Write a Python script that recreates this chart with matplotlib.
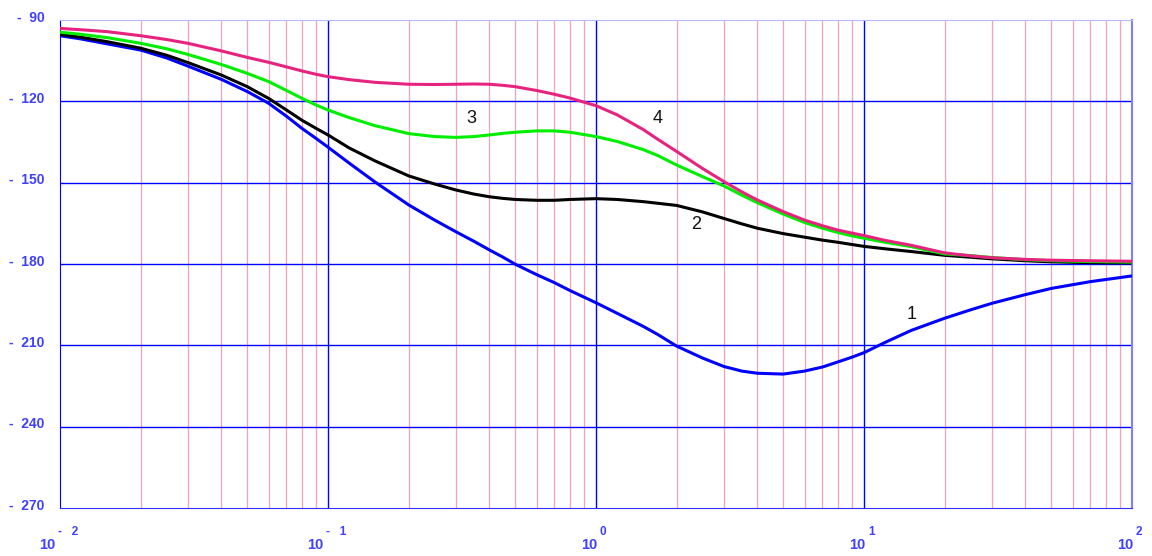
#!/usr/bin/env python3
import matplotlib
matplotlib.use("Agg")
import matplotlib.pyplot as plt
import matplotlib.transforms as mtransforms

plt.rcParams["font.family"] = ["Liberation Sans", "DejaVu Sans"]

# frequency points (log axis)
FREQ = [0.01, 0.012, 0.015, 0.02, 0.025, 0.03, 0.04, 0.05, 0.06, 0.07, 0.08, 0.09,
        0.1, 0.12, 0.15, 0.2, 0.25, 0.3, 0.35, 0.4, 0.45, 0.5, 0.6, 0.7, 0.8,
        1, 1.2, 1.5, 1.7, 2, 2.5, 3, 3.5, 4, 5, 6, 7, 8, 9,
        10, 12, 15, 20, 25, 30, 40, 50, 70, 100]

# phase, degrees
CURVE_1 = [-95.8, -97.0, -98.8, -101.1, -104.0, -107.0, -111.9, -116.4, -120.7,
           -125.5, -130.0, -133.6,
           -136.9, -142.8, -149.8, -158.2, -163.8, -168.1, -171.6, -174.8, -177.5,
           -180.1, -183.9, -186.9, -189.8,
           -194.3, -198.2, -203.0, -206.0, -210.3, -214.7, -217.8, -219.5, -220.3,
           -220.6, -219.5, -218.0, -216.1, -214.4,
           -212.7, -208.9, -204.5, -200.0, -196.9, -194.5, -191.3, -189.0, -186.5,
           -184.4]
CURVE_2 = [-95.3, -96.4, -98.0, -100.4, -103.0, -105.7, -110.3, -114.6, -118.9,
           -123.2, -127.0, -129.9,
           -132.4, -137.2, -142.0, -147.5, -150.5, -152.7, -154.2, -155.2, -155.8,
           -156.2, -156.5, -156.5, -156.2,
           -155.9, -156.2, -157.0, -157.6, -158.4, -160.8, -163.2, -165.2, -166.8,
           -168.8, -170.1, -171.2, -172.0, -172.8,
           -173.5, -174.4, -175.4, -176.8, -177.5, -178.1, -178.8, -179.2, -179.5,
           -179.6]
CURVE_3 = [-94.5, -95.3, -96.5, -98.6, -100.6, -102.7, -106.4, -109.7, -112.7,
           -116.0, -118.9, -121.3,
           -123.2, -126.0, -129.0, -131.9, -133.0, -133.3, -133.0, -132.4, -131.8,
           -131.4, -130.9, -130.9, -131.4,
           -133.0, -134.8, -137.8, -140.0, -143.5, -147.8, -151.2, -154.6, -157.4,
           -161.6, -164.7, -166.8, -168.4, -169.6,
           -170.5, -172.0, -173.6, -176.3, -176.9, -177.6, -178.4, -178.8, -179.1,
           -179.3]
CURVE_4 = [-93.1, -93.6, -94.3, -95.8, -97.2, -98.6, -101.4, -103.8, -105.6,
           -107.3, -108.8, -110.0,
           -110.9, -112.0, -113.0, -113.7, -113.8, -113.7, -113.6, -113.7, -114.1,
           -114.6, -116.0, -117.4, -118.8,
           -121.6, -125.0, -130.4, -134.0, -138.5, -144.8, -149.6, -153.4, -156.4,
           -160.7, -163.8, -165.9, -167.5, -168.6,
           -169.5, -171.3, -173.1, -175.9, -177.0, -177.7, -178.3, -178.6, -178.8,
           -179.0]

CURVES = [CURVE_1, CURVE_2, CURVE_3, CURVE_4]
COLORS = ["#0000ff", "#000000", "#00ee00", "#e6237e"]

# curve labels: text, x, y
LABEL_TEXT = ["1", "2", "3", "4"]
LABEL_X = [15.0, 2.36, 0.344, 1.70]
LABEL_Y = [-198.5, -165.3, -126.2, -126.5]

Y_TICKS = [-90, -120, -150, -180, -210, -240, -270]
Y_TICK_LABELS = ["-  90", "-  120", "-  150", "-  180", "-  210", "-  240", "-  270"]
X_TICKS = [0.01, 0.1, 1, 10, 100]
X_EXPONENTS = ["-   2", "-   1", "0", "1", "2"]

TICK_COLOR = "#4040ff"


def main() -> int:
    fig = plt.figure(figsize=(11.52, 5.56), dpi=100)
    ax = fig.add_axes([60 / 1152, 48 / 556, 1072 / 1152, 488 / 556])
    ax.set_xscale("log")
    ax.set_xlim(0.01, 100)
    ax.set_ylim(-270, -90)

    # pink minor lines
    for dec in [0.01, 0.1, 1, 10]:
        for k in range(2, 10):
            ax.axvline(dec * k, color="#f2a0c0", linewidth=0.9, zorder=1)
    for xv in [0.1, 1, 10]:
        ax.axvline(xv, color="#0000ff", linewidth=1.0, zorder=1.5)
    for yv in Y_TICKS[1:-1]:
        ax.axhline(yv, color="#0000ff", linewidth=1.0, zorder=1.5)

    for ys, c in zip(CURVES, COLORS):
        ax.plot(FREQ, ys, color=c, linewidth=2.2, zorder=3,
                solid_capstyle="round", solid_joinstyle="round")

    for t, x, y in zip(LABEL_TEXT, LABEL_X, LABEL_Y):
        ax.text(x, y, t, fontsize=13, color="#111111", ha="center", va="center",
                zorder=4)

    ax.set_yticks(Y_TICKS)
    ax.set_yticklabels(Y_TICK_LABELS, fontweight="bold")
    ax.set_xticks(X_TICKS)
    ax.set_xticklabels([])
    ax.minorticks_off()
    ax.tick_params(axis="y", length=0, pad=11, labelsize=10,
                   labelcolor=TICK_COLOR)
    ax.tick_params(axis="x", length=0)
    shift = mtransforms.ScaledTranslation(0, 4 / 100, fig.dpi_scale_trans)
    for lab in ax.get_yticklabels():
        lab.set_transform(lab.get_transform() + shift)

    # x labels: "10" with a raised exponent
    for xv, ex in zip(X_TICKS, X_EXPONENTS):
        dx = -5 if ex.startswith("-") else 1
        ax.annotate("10", xy=(xv, 0), xycoords=("data", "axes fraction"),
                    xytext=(dx, -37), textcoords="offset pixels",
                    ha="right", va="center", fontsize=10.5, fontweight="bold",
                    color=TICK_COLOR, annotation_clip=False)
        ax.annotate(ex, xy=(xv, 0), xycoords=("data", "axes fraction"),
                    xytext=(dx + 3, -24), textcoords="offset pixels",
                    ha="left", va="center", fontsize=8.5, fontweight="bold",
                    color=TICK_COLOR, annotation_clip=False)

    ax.spines["left"].set_color("#0000ff")
    ax.spines["bottom"].set_color("#3030ff")
    ax.spines["top"].set_color("#b8b8ff")
    ax.spines["right"].set_color("#8080ff")
    ax.spines["right"].set_linewidth(1.5)

    fig.savefig("out.png", dpi=100)
    plt.close(fig)
    return 0


if __name__ == "__main__":
    raise SystemExit(main())
